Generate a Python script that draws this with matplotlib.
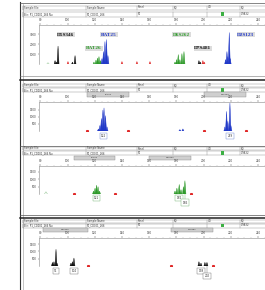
import matplotlib
matplotlib.use('Agg')
import matplotlib.pyplot as plt
from matplotlib.patches import Rectangle

W, H = 265, 290

# ---- data (size in bp, height in RFU) ----
# panel 1: all dyes overlaid
p1_black_bp = [90.8, 91.9, 93.0, 103.6, 105.5, 196.6, 197.6]
p1_black_h = [400, 250, 1850, 250, 900, 400, 250]
p1_green_bp = [119.4, 120.9, 122.0, 123.1, 124.2, 179.0, 180.2, 181.4, 182.6, 184.1, 185.6]
p1_green_h = [250, 450, 650, 800, 400, 250, 500, 1000, 500, 1100, 1300]
p1_blue_bp = [125.3, 126.4, 127.5, 128.6, 129.7, 216.2, 217.2, 217.9, 218.9, 219.6]
p1_blue_h = [600, 1300, 2300, 2500, 900, 500, 1300, 800, 3200, 600]
p1_red_bp = [100.3, 140.0, 151.0, 160.6, 199.5, 200.5]
p1_red_h = [300, 300, 300, 300, 400, 250]
p1_markers = ['D5S346', 'BAT25', 'BAT26', 'D6S262', 'D7S481', 'D2S123']
p1_marker_bp = [98.8, 130.5, 119.4, 183.7, 199.5, 231.1]
p1_marker_h = [3000, 3000, 1600, 3000, 1600, 3000]
p1_marker_col = ['black', 'blue', 'green', 'green', 'black', 'blue']

# panel 2: blue
p2_bp = [122.7, 123.8, 124.9, 126.0, 126.8, 127.9, 129.0, 182.6, 184.8,
         215.7, 216.9, 217.9, 219.4, 220.1]
p2_h = [150, 400, 900, 1500, 1650, 1100, 300, 100, 150,
        300, 1400, 700, 2000, 400]
p2_std = [114.3, 144.4, 200.3, 231.2]
p2_bins = ['BAT25', 'D2S123']
p2_bin_lo = [114.3, 200.3]
p2_bin_hi = [145.2, 231.2]
p2_calls = ['122', '219']
p2_call_bp = [126.5, 219.4]
p2_call_level = [1, 1]

# panel 3: green
p3_bp = [119.1, 120.2, 121.3, 122.4, 123.5, 179.0, 180.4, 182.1, 183.4, 185.2, 186.3]
p3_h = [200, 400, 600, 500, 200, 200, 400, 650, 300, 500, 900]
p3_std = [104.7, 134.9, 190.7]
p3_bins = ['BAT26', 'D6S262']
p3_bin_lo = [104.7, 159.9]
p3_bin_hi = [134.9, 190.7]
p3_calls = ['121', '182', '186']
p3_call_bp = [121.3, 182.1, 186.3]
p3_call_level = [1, 1, 2]

# panel 4: black
p4_bp = [88.9, 90.0, 91.5, 92.2, 102.5, 103.6, 104.7, 196.6, 198.1, 201.0, 202.5]
p4_h = [250, 300, 1150, 200, 200, 300, 550, 300, 200, 250, 250]
p4_std = [115.0, 176.1, 207.0]
p4_bins = ['D5S346', 'D7S481']
p4_bin_lo = [81.9, 176.1]
p4_bin_hi = [115.0, 207.0]
p4_calls = ['91', '104', '198', '202']
p4_call_bp = [91.5, 104.7, 198.1, 202.5]
p4_call_level = [1, 1, 1, 2]

head_row1 = ['Sample File', 'Sample Name', 'Panel', 'SQ', 'UD', 'SQ']
head_row2 = ['Bin: P1_CD001_266 Nu', 'P1_CD001_266', 'P1', '', '', '0.9832']
head_cells = [23, 86, 137, 173, 207, 240, 268]

COLORS = {'black': '#111111', 'blue': '#2038c8', 'green': '#2e9a2a', 'red': '#e02828'}
XMIN, PX0, PXBP = 79, 39, 27.2 / 20


def fbox(x0, ytop, x1, ybot):
    return [x0 / W, 1 - ybot / H, (x1 - x0) / W, (ybot - ytop) / H]


fig = plt.figure(figsize=(W / 100, H / 100), dpi=100)
bg = fig.add_axes([0, 0, 1, 1])
bg.set_xlim(0, W)
bg.set_ylim(H, 0)
bg.axis('off')

# outer frame and panel separators
bg.plot([20, 20], [2, H], color='#333', lw=0.8)
bg.plot([23, 23], [4, H], color='#999', lw=0.4)
bg.plot([20, W], [2.5, 2.5], color='#555', lw=0.5)
for y, lw, c in [(76, 0.4, '#777'), (80, 1.1, '#222'), (146, 0.5, '#555'),
                 (214.5, 0.5, '#555'), (217.5, 1.1, '#222')]:
    bg.plot([20, W], [y, y], color=c, lw=lw)


def header(y1a, y1b, y2a, y2b):
    for ya, yb, texts in [(y1a, y1b, head_row1), (y2a, y2b, head_row2)]:
        bg.add_patch(Rectangle((23, ya), W, yb - ya, fc='white', ec='#888', lw=0.3))
        for i, t in enumerate(texts):
            xa = head_cells[i]
            bg.plot([xa, xa], [ya, yb], color='#888', lw=0.3)
            bg.text(xa + 1, (ya + yb) / 2, t, fontsize=1.8, va='center', color='#333')
    bg.add_patch(Rectangle((221, y2a + 0.4), 3, y2b - y2a - 0.8, fc='#3cb043', ec='none'))


header(5.5, 9.5, 12, 16.5)
header(83.5, 87, 88, 92)
header(147, 150, 151, 155)
header(219.5, 222.5, 223.5, 227.5)


def make_axes(ytop, ybot, ymax, yticks, basecol):
    ax = fig.add_axes(fbox(PX0, ytop, 272, ybot))
    ax.set_xlim(XMIN, XMIN + (272 - PX0) / PXBP)
    ax.set_ylim(0, ymax)
    ax.patch.set_alpha(0)
    ax.xaxis.tick_top()
    ax.set_xticks(range(80, 260, 20))
    ax.set_xticks(range(80, 250, 5), minor=True)
    ax.set_yticks(yticks)
    ax.tick_params(axis='x', which='major', labelsize=2.0, length=1.5, width=0.3,
                   pad=0.4, colors='#444')
    ax.tick_params(axis='x', which='minor', length=0.8, width=0.2, colors='#888')
    ax.tick_params(axis='y', labelsize=2.0, length=1, width=0.3, pad=0.6, colors='#444')
    for s in ['bottom', 'right']:
        ax.spines[s].set_visible(False)
    for s in ['top', 'left']:
        ax.spines[s].set_color('#888')
        ax.spines[s].set_linewidth(0.4)
    ax.axhline(0, color=basecol, lw=0.6, zorder=1)
    return ax


def peaks(ax, pos, hts, color, w=0.75):
    for p, h in zip(pos, hts):
        ax.fill([p - w, p, p + w], [0, h, 0], color=COLORS[color], lw=0.3, zorder=3)


def bins(ax, names, lo, hi, ya, yb):
    tr = ax.get_xaxis_transform()
    for n, a, b in zip(names, lo, hi):
        ax.add_patch(Rectangle((a, ya), b - a, yb - ya, transform=tr, fc='#cfcfcf',
                               ec='#888', lw=0.3, clip_on=False))
        ax.text((a + b) / 2, (ya + yb) / 2, n, transform=tr, fontsize=1.6,
                ha='center', va='center', color='#333')


def calls(ax, names, pos, level, step, ec):
    for n, p, lv in zip(names, pos, level):
        y = -step * lv
        if lv > 1:
            ax.plot([p, p], [0, y], color=ec, lw=0.3, clip_on=False)
        ax.text(p, y, n, fontsize=2, ha='center', va='center', color='#333', clip_on=False,
                bbox=dict(boxstyle='square,pad=0.4', fc='white', ec=ec, lw=0.3))


# panel 1
ax1 = make_axes(25, 64.5, 3950, [1000, 2000, 3000], '#e86060')
peaks(ax1, p1_red_bp, p1_red_h, 'red')
peaks(ax1, p1_black_bp, p1_black_h, 'black')
peaks(ax1, p1_green_bp, p1_green_h, 'green')
peaks(ax1, p1_blue_bp, p1_blue_h, 'blue')
ax1.plot([84.5, 85.6, 86.7], [0, 180, 0], color='#9bc99b', lw=0.4)
for name, x, y, c in zip(p1_markers, p1_marker_bp, p1_marker_h, p1_marker_col):
    ax1.text(x, y, name, fontsize=3.8, family='Liberation Serif', weight='bold',
             color=COLORS[c], ha='center', va='center',
             bbox=dict(boxstyle='square,pad=0.15', fc='#dcdcdc', ec='none'))

# panel 2
ax2 = make_axes(102, 131, 2070, [500, 1000, 1500], '#8aa0e0')
peaks(ax2, p2_bp, p2_h, 'blue')
ax2.plot(p2_std, [0] * len(p2_std), 's', ms=1.2, color=COLORS['red'], zorder=4)
bins(ax2, p2_bins, p2_bin_lo, p2_bin_hi, 1.17, 1.34)
calls(ax2, p2_calls, p2_call_bp, p2_call_level, 360, '#6680cc')

# panel 3
ax3 = make_axes(166, 194, 1890, [500, 1000, 1500], '#8cc88c')
peaks(ax3, p3_bp, p3_h, 'green')
ax3.plot([83.0, 84.1, 85.2], [0, 150, 0], color='#9bc99b', lw=0.4)
ax3.plot(p3_std, [0] * len(p3_std), 's', ms=1.2, color=COLORS['red'], zorder=4)
bins(ax3, p3_bins, p3_bin_lo, p3_bin_hi, 1.22, 1.36)
calls(ax3, p3_calls, p3_call_bp, p3_call_level, 290, '#6cb06c')

# panel 4
ax4 = make_axes(238, 266, 1920, [500, 1000, 1500], '#777777')
peaks(ax4, p4_bp, p4_h, 'black')
ax4.plot(p4_std, [0] * len(p4_std), 's', ms=1.2, color=COLORS['red'], zorder=4)
bins(ax4, p4_bins, p4_bin_lo, p4_bin_hi, 1.22, 1.36)
calls(ax4, p4_calls, p4_call_bp, p4_call_level, 340, '#666666')

fig.savefig('out.png', dpi=100)
